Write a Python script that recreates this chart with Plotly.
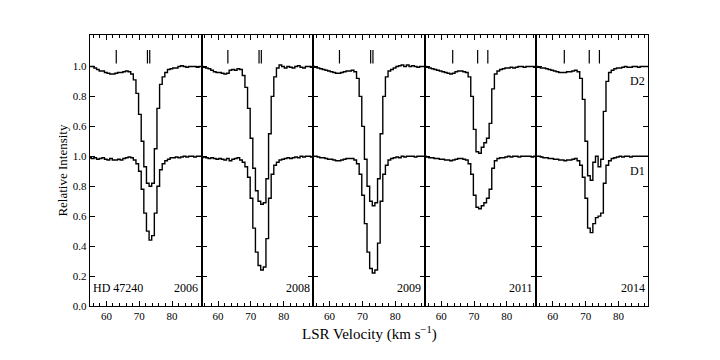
#na i d1/d2 profiles of hd 47240, five epochs side by side
#d2 is shifted up by 0.6 so both lines fit in one panel

from plotly.subplots import make_subplots
import plotly.graph_objects as go

velocity = [55.0, 55.8, 56.6, 57.4, 58.2, 59.0, 59.8, 60.6, 61.4, 62.2, 63.0,
            63.8, 64.6, 65.4, 66.2, 67.0, 67.8, 68.6, 69.4, 70.2, 71.0, 71.8,
            72.6, 73.4, 74.2, 75.0, 75.8, 76.6, 77.4, 78.2, 79.0, 79.8, 80.6,
            81.4, 82.2, 83.0, 83.8, 84.6, 85.4, 86.2, 87.0, 87.8, 88.6, 89.4]

years = ["2006", "2008", "2009", "2011", "2014"]

d2_2006 = [1.00, 1.00, 0.99, 0.98, 0.97, 0.97, 0.96, 0.955, 0.95, 0.95, 0.955,
           0.96, 0.96, 0.965, 0.97, 0.965, 0.95, 0.91, 0.82, 0.68, 0.50, 0.33,
           0.22, 0.20, 0.22, 0.45, 0.72, 0.88, 0.93, 0.96, 0.98, 0.985, 0.99,
           0.99, 1.00, 1.005, 1.00, 0.995, 1.00, 1.00, 1.00, 0.995, 1.00, 1.00]
d1_2006 = [0.99, 0.985, 0.99, 0.98, 0.985, 0.99, 0.98, 0.975, 0.985, 0.975, 0.975,
           0.98, 0.975, 0.985, 0.99, 0.995, 0.99, 0.975, 0.95, 0.90, 0.78, 0.62,
           0.50, 0.44, 0.47, 0.62, 0.80, 0.91, 0.95, 0.97, 0.98, 0.99, 0.99,
           0.995, 0.99, 0.995, 1.00, 0.995, 1.00, 1.00, 0.995, 1.00, 1.00, 1.00]

d2_2008 = [1.00, 0.995, 0.99, 0.985, 0.975, 0.965, 0.96, 0.96, 0.955, 0.95, 0.955,
           0.975, 0.98, 0.975, 0.985, 0.98, 0.94, 0.86, 0.72, 0.52, 0.32, 0.17,
           0.10, 0.08, 0.09, 0.25, 0.55, 0.80, 0.93, 0.99, 1.01, 1.00, 0.99,
           1.00, 0.995, 0.99, 1.00, 1.005, 0.995, 0.99, 1.00, 1.00, 0.995, 1.00]
d1_2008 = [0.99, 0.995, 0.99, 0.985, 0.99, 0.985, 0.98, 0.985, 0.98, 0.975, 0.985,
           0.97, 0.98, 0.985, 0.99, 0.975, 0.96, 0.93, 0.86, 0.72, 0.52, 0.36,
           0.27, 0.24, 0.26, 0.45, 0.72, 0.88, 0.94, 0.96, 0.975, 0.98, 0.985,
           0.99, 0.985, 0.99, 0.995, 0.99, 1.00, 0.995, 1.00, 1.00, 0.995, 1.00]

d2_2009 = [1.00, 0.995, 0.99, 0.985, 0.98, 0.975, 0.97, 0.965, 0.96, 0.955, 0.955,
           0.96, 0.965, 0.97, 0.97, 0.975, 0.965, 0.92, 0.80, 0.60, 0.38, 0.20,
           0.10, 0.07, 0.09, 0.25, 0.55, 0.80, 0.93, 0.97, 0.98, 0.99, 1.00,
           1.005, 1.01, 1.00, 1.01, 1.00, 1.005, 1.00, 0.995, 1.00, 1.00, 1.00]
d1_2009 = [1.00, 1.00, 0.995, 0.99, 0.99, 0.985, 0.98, 0.98, 0.975, 0.97, 0.97,
           0.975, 0.98, 0.985, 0.985, 0.985, 0.975, 0.95, 0.88, 0.74, 0.55, 0.36,
           0.25, 0.22, 0.24, 0.42, 0.70, 0.88, 0.94, 0.975, 0.985, 0.99, 0.995,
           0.99, 1.00, 0.995, 1.00, 1.00, 1.00, 0.995, 1.00, 1.00, 1.00, 1.00]

d2_2011 = [1.00, 0.995, 0.99, 0.985, 0.98, 0.975, 0.97, 0.965, 0.96, 0.955, 0.95,
           0.955, 0.965, 0.97, 0.97, 0.965, 0.96, 0.93, 0.80, 0.58, 0.43, 0.42,
           0.46, 0.49, 0.52, 0.62, 0.85, 0.95, 0.97, 0.98, 0.985, 0.99, 0.99,
           0.995, 0.99, 0.995, 1.00, 1.00, 0.995, 1.00, 1.00, 1.00, 0.995, 0.99]
d1_2011 = [1.00, 0.995, 0.99, 0.99, 0.985, 0.985, 0.98, 0.98, 0.975, 0.975, 0.97,
           0.975, 0.98, 0.985, 0.985, 0.98, 0.975, 0.95, 0.88, 0.74, 0.66, 0.65,
           0.67, 0.69, 0.72, 0.78, 0.92, 0.97, 0.985, 0.99, 0.99, 0.995, 1.00,
           0.995, 1.00, 1.00, 0.995, 1.00, 1.00, 1.00, 1.00, 0.995, 1.00, 1.00]

d2_2014 = [1.00, 0.995, 0.99, 0.99, 0.985, 0.98, 0.975, 0.97, 0.965, 0.96, 0.96,
           0.96, 0.965, 0.965, 0.97, 0.975, 0.965, 0.92, 0.78, 0.50, 0.27, 0.24,
           0.36, 0.40, 0.33, 0.38, 0.70, 0.90, 0.96, 0.975, 0.985, 0.99, 0.99,
           0.995, 1.00, 0.995, 0.995, 1.00, 1.00, 0.995, 1.00, 1.00, 1.00, 1.00]
d1_2014 = [1.00, 1.00, 0.995, 0.99, 0.99, 0.985, 0.985, 0.98, 0.98, 0.975, 0.975,
           0.97, 0.975, 0.975, 0.98, 0.985, 0.97, 0.94, 0.86, 0.72, 0.52, 0.49,
           0.55, 0.59, 0.60, 0.62, 0.82, 0.94, 0.97, 0.985, 0.99, 0.995, 1.00,
           0.995, 1.00, 1.00, 0.995, 1.00, 1.00, 1.00, 1.00, 1.00, 1.00, 1.00]

d2_spectra = [d2_2006, d2_2008, d2_2009, d2_2011, d2_2014]
d1_spectra = [d1_2006, d1_2008, d1_2009, d1_2011, d1_2014]

# component velocities marked at the top of each panel
components_early = [63.0, 72.5, 73.2]
components_late = [63.5, 71.1, 74.2]
components = [components_early, components_early, components_early,
              components_late, components_late]

d2_offset = 0.6
y_tickvals = [0.0, 0.2, 0.4, 0.6, 0.8, 1.0, 1.2, 1.4, 1.6]
y_ticktext = ["0.0", "0.2", "0.4", "0.6", "0.8", "1.0", "0.6", "0.8", "1.0"]

FONT = "Liberation Serif"

fig = make_subplots(rows=1, cols=5, shared_yaxes=True, horizontal_spacing=0)

for i, year in enumerate(years):
    col = i + 1
    fig.add_trace(go.Scatter(x=velocity, y=[v + d2_offset for v in d2_spectra[i]],
                             mode="lines", line=dict(color="black", width=1.4, shape="hvh")),
                  row=1, col=col)
    fig.add_trace(go.Scatter(x=velocity, y=d1_spectra[i],
                             mode="lines", line=dict(color="black", width=1.4, shape="hvh")),
                  row=1, col=col)
    for c in components[i]:
        fig.add_trace(go.Scatter(x=[c, c], y=[1.62, 1.71], mode="lines",
                                 line=dict(color="black", width=1.2)),
                      row=1, col=col)
    xref = "x" if col == 1 else "x%d" % col
    yref = "y" if col == 1 else "y%d" % col
    fig.add_annotation(x=88.6, y=0.12, xref=xref, yref=yref, text=year,
                       showarrow=False, xanchor="right",
                       font=dict(family=FONT, size=12, color="black"))

fig.add_annotation(x=55.4, y=0.12, xref="x", yref="y", text="HD 47240",
                   showarrow=False, xanchor="left",
                   font=dict(family=FONT, size=12, color="black"))
fig.add_annotation(x=88.6, y=1.5, xref="x5", yref="y5", text="D2",
                   showarrow=False, xanchor="right",
                   font=dict(family=FONT, size=12, color="black"))
fig.add_annotation(x=88.6, y=0.9, xref="x5", yref="y5", text="D1",
                   showarrow=False, xanchor="right",
                   font=dict(family=FONT, size=12, color="black"))

fig.update_xaxes(range=[55, 89], tick0=0, dtick=10, ticks="inside", ticklen=5,
                 tickwidth=1, tickcolor="black",
                 minor=dict(dtick=2, tick0=0, ticks="inside", ticklen=2.5, tickcolor="black"),
                 showline=True, linecolor="black", linewidth=1.4, mirror="allticks",
                 showgrid=False, zeroline=False,
                 tickfont=dict(family=FONT, size=11, color="black"))
fig.update_yaxes(range=[0, 1.81], tickvals=y_tickvals, ticktext=y_ticktext,
                 ticks="inside", ticklen=5, tickwidth=1, tickcolor="black",
                 showline=True, linecolor="black", linewidth=1.4, mirror="allticks",
                 showgrid=False, zeroline=False,
                 tickfont=dict(family=FONT, size=11, color="black"))

# the page adds an 8px body margin, so margins are trimmed to match
fig.update_layout(
    width=720, height=360,
    margin=dict(l=82, r=80, t=27, b=62),
    plot_bgcolor="white", paper_bgcolor="white",
    showlegend=False,
    font=dict(family=FONT, color="black"),
)
fig.add_annotation(x=0.5, y=-0.1, xref="paper", yref="paper",
                   text="LSR Velocity (km s<sup>\u22121</sup>)", showarrow=False,
                   yanchor="middle", font=dict(family=FONT, size=15, color="black"))
fig.add_annotation(x=-0.05, y=0.5, xref="paper", yref="paper",
                   text="Relative Intensity", showarrow=False, textangle=-90,
                   xanchor="center", font=dict(family=FONT, size=13, color="black"))

fig.write_html("out.html")
